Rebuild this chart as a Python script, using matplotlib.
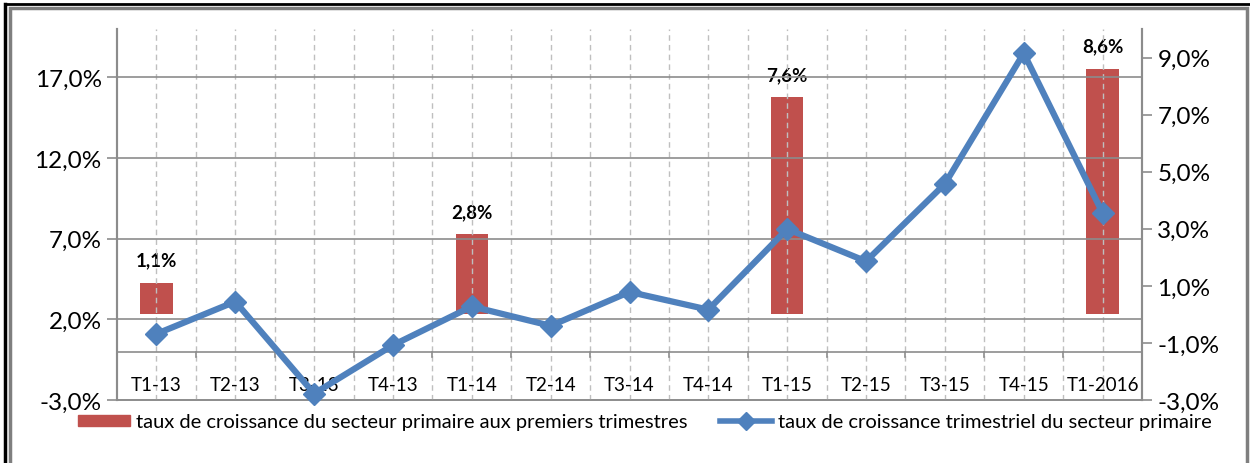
import matplotlib.pyplot as plt
from matplotlib.lines import Line2D
from matplotlib.patches import Patch, Rectangle
import numpy as np

# data
quarters = ["T1-13", "T2-13", "T3-13", "T4-13", "T1-14", "T2-14", "T3-14",
            "T4-14", "T1-15", "T2-15", "T3-15", "T4-15", "T1-2016"]
quarterly_growth = [1.1, 3.1, -2.6, 0.4, 2.8, 1.6, 3.7, 2.6, 7.6, 5.6, 10.4, 18.5, 8.6]
first_q_idx = [0, 4, 8, 12]
first_q_growth = [1.1, 2.8, 7.6, 8.6]
first_q_labels = ["1,1%", "2,8%", "7,6%", "8,6%"]

left_ticks = [-3, 2, 7, 12, 17]
right_ticks = [-3, -1, 1, 3, 5, 7, 9]

bar_color = "#C0504D"
line_color = "#4F81BD"
grid_gray = "#8C8C8C"

plt.rcParams["font.family"] = ["Lato", "DejaVu Sans"]

W, H = 1250, 464
fig = plt.figure(figsize=(W / 100, H / 100), dpi=100)
ax = fig.add_axes([117 / W, 1 - 401 / H, (1142 - 117) / W, (401 - 30) / H])
ax2 = ax.twinx()

x = np.arange(len(quarters))

# left axis: line
ax.set_xlim(-0.5, len(quarters) - 0.5)
ax.set_ylim(-3, 20)
ax.set_yticks(left_ticks)
ax.set_yticklabels([f"{v:.1f}%".replace(".", ",") for v in left_ticks], fontsize=17.5)
ax.set_xticks([])

# grid: vertical dashed at centers and boundaries
for xv in np.arange(-0.5, len(quarters), 0.5)[1:-1]:
    ax.axvline(xv, color="#BFBFBF", lw=1, ls=(0, (4, 3)), zorder=0)
for yv in left_ticks[1:] + [0]:
    ax.axhline(yv, color=grid_gray, lw=1.2, zorder=0.5)

# category axis at zero with small ticks at boundaries
for xv in np.arange(0.5, len(quarters) - 0.5, 1):
    ax.plot([xv, xv], [0, -0.35], color=grid_gray, lw=1.2, zorder=0.5, clip_on=False)

for i, q in enumerate(quarters):
    ax.text(i, -2.05, q, ha="center", va="center", fontsize=13.5)

ax.plot(x, quarterly_growth, color=line_color, lw=4.5, marker="D", markersize=11,
        zorder=5, clip_on=False)

for a in (ax, ax2):
    a.spines["top"].set_visible(False)
    a.spines["left"].set_color(grid_gray)
    a.spines["right"].set_color(grid_gray)
    a.spines["bottom"].set_color(grid_gray)
    a.spines["left"].set_linewidth(1.5)
    a.spines["right"].set_linewidth(1.5)
    a.spines["bottom"].set_linewidth(1.2)
ax.tick_params(axis="y", length=7, width=1.2, color=grid_gray, pad=4)

# right axis: bars
ax2.set_ylim(-3, 10)
ax2.set_yticks(right_ticks)
ax2.set_yticklabels([f"{v:.1f}%".replace(".", ",") for v in right_ticks], fontsize=17.5)
ax2.tick_params(axis="y", length=7, width=1.2, color=grid_gray, pad=4)
ax2.bar(first_q_idx, first_q_growth, width=0.41, color=bar_color, zorder=2)
for i, v, lab in zip(first_q_idx, first_q_growth, first_q_labels):
    ax2.text(i, v + 0.5, lab, ha="center", va="bottom", fontsize=13.5, fontweight="bold")

ax.set_zorder(ax2.get_zorder() + 1)
ax.patch.set_visible(False)

handles = [Patch(color=bar_color),
           Line2D([], [], color=line_color, lw=4, marker="D", markersize=9)]
labels = ["taux de croissance du secteur primaire aux premiers trimestres",
          "taux de croissance trimestriel du secteur primaire"]
fig.legend(handles, labels, loc="center", bbox_to_anchor=(645 / W, 1 - 423 / H),
           ncol=2, frameon=False, fontsize=14.5, handlelength=2.6, handleheight=0.5,
           columnspacing=1.6, handletextpad=0.3)

# page frame
fig.add_artist(Line2D([5 / W, 5 / W], [0, 1 - 5 / H], color="black", lw=2.5,
                      transform=fig.transFigure))
fig.add_artist(Line2D([5 / W, 1], [1 - 5 / H, 1 - 5 / H], color="black", lw=2,
                      transform=fig.transFigure))
fig.add_artist(Rectangle((10 / W, -0.05), (1247 - 10) / W, 1.05 - 9 / H, fill=False,
                         edgecolor="#7F7F7F", lw=2.5, transform=fig.transFigure))

fig.savefig("out.png", dpi=100)
